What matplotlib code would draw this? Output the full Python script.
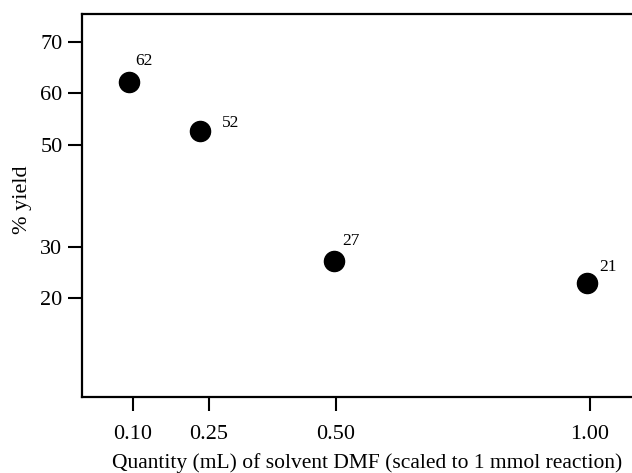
import matplotlib
matplotlib.use("Agg")
import matplotlib.pyplot as plt

# data
dmf_ml = [0.093, 0.232, 0.496, 0.994]
yield_pct = [62.3, 52.6, 27.2, 22.9]
point_labels = ["62", "52", "27", "21"]
label_offsets = [(4, 9), (16, 0), (6, 9), (9, 6)]  # points

xticks = [0.10, 0.25, 0.50, 1.00]
xtick_labels = ["0.10", "0.25", "0.50", "1.00"]
yticks = [20, 30, 50, 60, 70]

plt.rcParams["font.family"] = ["Liberation Serif", "DejaVu Serif"]

fig = plt.figure(figsize=(6.32, 4.73), dpi=100)
ax = fig.add_axes([82 / 632, 1 - 397 / 473, 550 / 632, 383 / 473])

ax.scatter(dmf_ml, yield_pct, s=210, color="black", zorder=3)
for x, y, lab, off in zip(dmf_ml, yield_pct, point_labels, label_offsets):
    ax.annotate(lab, (x, y), xytext=off, textcoords="offset points",
                fontsize=12.5, ha="left", va="bottom")

ax.set_xlim(0.0, 1.083)
ax.set_ylim(0.7, 75.5)
ax.set_xticks(xticks)
ax.set_xticklabels(xtick_labels)
ax.set_yticks(yticks)

ax.spines["right"].set_visible(False)
for side in ["left", "bottom", "top"]:
    ax.spines[side].set_linewidth(1.6)
ax.tick_params(axis="both", direction="out", length=10, width=1.5, labelsize=16)
ax.tick_params(axis="x", pad=10)
ax.tick_params(axis="y", pad=4)

ax.set_xlabel("Quantity (mL) of solvent DMF (scaled to 1 mmol reaction)", fontsize=15.5)
ax.xaxis.set_label_coords(0.518, -0.147)
ax.set_ylabel("% yield", fontsize=16)
ax.yaxis.set_label_coords(-0.09, 0.514)

fig.savefig("out.png", dpi=100)
